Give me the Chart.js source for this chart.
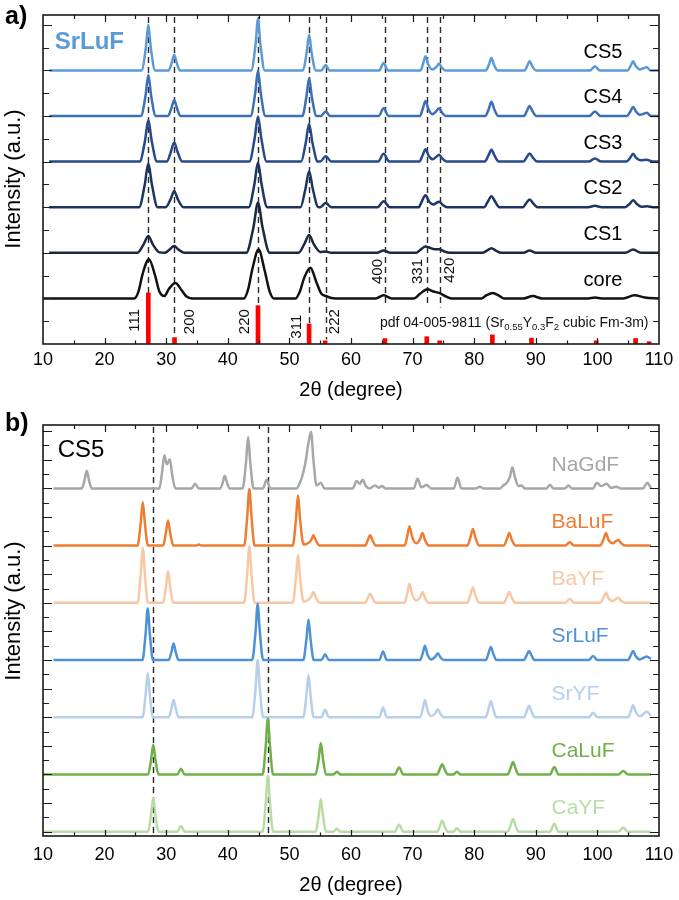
<!DOCTYPE html>
<html><head><meta charset="utf-8">
<script src="https://cdn.jsdelivr.net/npm/chart.js@4"></script>
<style>
body{margin:0;background:#fff;}
#wrap{position:relative;width:679px;height:900px;background:#fff;}
canvas{position:absolute;left:0;}
#ca{top:0}
#cb{top:400px}
</style></head><body>
<div id="wrap"><canvas id="ca" width="679" height="400"></canvas><canvas id="cb" width="679" height="500"></canvas></div>
<script>
// ---------- shared ----------
const xTickValues = [10,20,30,40,50,60,70,80,90,100,110];
const xTickLabels = ['10','20','30','40','50','60','70','80','90','100','110'];

// ---------- panel a: SrLuF core/shell series (2θ, relative intensity) ----------
const namesA = ['core','CS1','CS2','CS3','CS4','CS5'];
const offsetsA = [1,2,3,4,5,6];
const core = [[10,0],
 [24.8,0],[25.5,0.15],[26.2,0.55],[27.2,0.86],[28.2,0.5],[28.9,0.15],[29.7,0.05],
 [30.4,0.2],[31.5,0.34],[32.5,0.18],[33.3,0.04],[34.2,0],
 [42.6,0],[43.3,0.2],[44.0,0.65],[45.0,1.07],[46.0,0.6],[46.8,0.15],[47.5,0],
 [51.0,0],[51.7,0.15],[52.4,0.45],[53.4,0.67],[54.4,0.35],[55.2,0.1],[56.0,0.05],[56.8,0.01],[57.5,0],
 [64.0,0],[65.3,0.07],[66.6,0],
 [70.2,0],[71.2,0.1],[72.4,0.2],[73.4,0.15],[74.3,0.12],[75.3,0.05],[76.3,0],
 [81.2,0],[82.0,0.07],[83.0,0.12],[84.0,0.06],[84.8,0],
 [88.0,0],[89.5,0.05],[91.0,0],
 [98.5,0],[99.6,0.02],[100.7,0],
 [104.2,0],[106.0,0.07],[107.7,0.02],[110,0]];
const cs1 = [[11,0],
 [25.3,0],[26.35,0.19],[27.1,0.37],[27.85,0.18],[28.9,0.01],
 [29.8,0],[30.6,0.08],[31.3,0.15],[32.0,0.07],[33.0,0],
 [43.0,0],[44.15,0.55],[44.9,1.1],[45.65,0.55],[46.8,0],
 [51.5,0],[52.45,0.2],[53.2,0.39],[53.95,0.19],[55.0,0.02],[55.9,0.03],[56.8,0],
 [64.2,0],[65.3,0.05],[66.4,0],
 [70.6,0],[71.4,0.08],[72.1,0.14],[72.8,0.11],[73.6,0.08],[74.3,0.08],[75.0,0.04],[76.0,0],
 [81.3,0],[82.1,0.05],[82.8,0.1],[83.5,0.05],[84.4,0],
 [88.0,0],[89.0,0.05],[90.0,0],
 [104.5,0],[105.8,0.07],[107.1,0],[110,0]];
const cs2 = [[11,0],
 [25.6,0],[26.5,0.48],[27.1,0.96],[27.7,0.48],[28.6,0],
 [29.9,0],[30.7,0.17],[31.3,0.35],[31.9,0.17],[32.8,0],
 [43.4,0],[44.3,0.49],[44.9,0.98],[45.5,0.49],[46.4,0],
 [51.8,0],[52.6,0.4],[53.2,0.79],[53.8,0.4],[54.7,0],
 [55.0,0],[55.9,0.09],[56.8,0],
 [64.3,0],[65.3,0.13],[66.3,0],
 [71.0,0],[71.5,0.13],[72.1,0.26],[72.7,0.12],[73.4,0.06],[73.8,0.09],[74.3,0.12],[74.9,0.05],[75.6,0],
 [81.6,0],[82.2,0.12],[82.8,0.24],[83.4,0.12],[84.1,0],
 [87.9,0],[88.4,0.08],[89.0,0.17],[89.6,0.08],[90.3,0],
 [98.5,0],[99.6,0.03],[100.7,0],
 [104.5,0],[105.2,0.07],[105.8,0.15],[106.4,0.07],[107.2,0.01],[108.1,0.02],[109,0],[110,0]];
const cs3 = [[11,0],
 [25.7,0],[26.55,0.45],[27.1,0.91],[27.65,0.45],[28.5,0],
 [30.1,0],[30.75,0.21],[31.3,0.42],[31.85,0.21],[32.6,0],
 [43.5,0],[44.35,0.5],[44.9,0.99],[45.45,0.5],[46.3,0],
 [51.9,0],[52.65,0.41],[53.2,0.83],[53.75,0.41],[54.6,0],
 [55.0,0],[55.9,0.12],[56.8,0],
 [64.4,0],[65.3,0.17],[66.2,0],
 [71.1,0],[71.6,0.13],[72.1,0.27],[72.6,0.13],[73.3,0.05],[73.8,0.1],[74.3,0.15],[74.8,0.07],[75.5,0],
 [81.7,0],[82.3,0.13],[82.8,0.26],[83.3,0.13],[84.0,0],
 [88.0,0],[88.5,0.09],[89.0,0.18],[89.5,0.09],[90.2,0],
 [98.6,0],[99.6,0.07],[100.6,0],
 [104.7,0],[105.3,0.08],[105.8,0.17],[106.3,0.08],[107.0,0.03],[108.0,0.04],[109,0],[110,0]];
const cs4 = [[11,0],
 [25.9,0],[26.65,0.45],[27.1,0.9],[27.55,0.45],[28.3,0],
 [30.3,0],[30.85,0.17],[31.3,0.35],[31.75,0.17],[32.3,0],
 [43.7,0],[44.45,0.5],[44.9,1.0],[45.35,0.5],[46.1,0],
 [52.1,0],[52.75,0.41],[53.2,0.83],[53.65,0.41],[54.4,0],
 [55.1,0],[55.9,0.1],[56.6,0],
 [64.5,0],[65.3,0.17],[66.1,0],
 [71.2,0],[71.65,0.16],[72.1,0.33],[72.55,0.16],[73.2,0.04],[73.8,0.1],[74.3,0.17],[74.8,0.07],[75.4,0],
 [81.8,0],[82.35,0.15],[82.8,0.31],[83.25,0.15],[83.9,0],
 [88.1,0],[88.55,0.11],[89.0,0.22],[89.45,0.11],[90.1,0],
 [98.7,0],[99.6,0.1],[100.5,0],
 [104.8,0],[105.35,0.1],[105.8,0.2],[106.25,0.1],[106.9,0.03],[107.5,0.05],[108.0,0.07],[108.7,0],[110,0]];
const cs5 = [[11,0],
 [26.0,0],[26.7,0.5],[27.1,1.0],[27.5,0.5],[28.2,0],
 [30.4,0],[30.9,0.17],[31.3,0.34],[31.7,0.17],[32.2,0],
 [43.8,0],[44.5,0.56],[44.9,1.13],[45.3,0.56],[46.0,0],
 [52.2,0],[52.8,0.39],[53.2,0.78],[53.6,0.39],[54.3,0],
 [55.2,0],[55.9,0.12],[56.5,0],
 [64.6,0],[65.3,0.16],[66.0,0],
 [71.3,0],[71.7,0.15],[72.1,0.31],[72.5,0.14],[73.2,0.02],[73.9,0.08],[74.3,0.15],[74.7,0.07],[75.3,0],
 [81.9,0],[82.4,0.13],[82.8,0.27],[83.2,0.13],[83.8,0],
 [88.2,0],[88.6,0.1],[89.0,0.2],[89.4,0.1],[90.0,0],
 [98.8,0],[99.6,0.09],[100.4,0],
 [104.9,0],[105.4,0.1],[105.8,0.2],[106.2,0.1],[106.9,0.02],[107.5,0.05],[108.0,0.07],[108.6,0],[110,0]];
const seriesA = [core, cs1, cs2, cs3, cs4, cs5];

// reference pattern pdf 04-005-9811
const refPos = [27.1,31.35,44.9,53.2,55.8,65.5,72.3,74.4,82.95,89.3,99.8,106.2,108.4];
const refInt = [1.12,0.14,0.84,0.44,0.07,0.12,0.16,0.07,0.2,0.13,0.07,0.12,0.05];
const hklLabels = ['111','200','220','311','222','400','331','420'];
const dashA = [27.1,31.3,44.9,53.2,55.9,65.5,72.3,74.4];

// ---------- panel b: CS5 of different hosts ----------
const namesB = ['CaYF','CaLuF','SrYF','SrLuF','BaYF','BaLuF','NaGdF'];
const offsetsB = [0,1,2,3,4,5,6];
const caYF = [[10,0],
 [27.05,0],[27.55,0.3],[27.9,0.6],[28.25,0.3],[28.75,0],
 [31.8,0],[32.4,0.1],[33.0,0],
 [45.65,0],[46.15,0.49],[46.5,0.98],[46.85,0.49],[47.35,0],
 [54.25,0],[54.75,0.28],[55.1,0.57],[55.45,0.28],[55.95,0],
 [57.1,0],[57.7,0.05],[58.3,0],
 [67.1,0],[67.8,0.12],[68.5,0],
 [74.0,0],[74.4,0.09],[74.8,0.19],[75.2,0.09],[75.7,0],[76.6,0],[77.2,0.06],[77.8,0],
 [85.4,0],[85.9,0.11],[86.3,0.22],[86.7,0.11],[87.2,0],
 [92.3,0],[93.0,0.14],[93.7,0],
 [103.4,0],[104.2,0.07],[105.0,0],[108.7,0]];
const caLuF = [[10,0],
 [27.05,0],[27.55,0.26],[27.9,0.52],[28.25,0.26],[28.75,0],
 [31.8,0],[32.4,0.1],[33.0,0],
 [45.65,0],[46.15,0.49],[46.5,0.98],[46.85,0.49],[47.35,0],
 [54.25,0],[54.75,0.27],[55.1,0.55],[55.45,0.27],[55.95,0],
 [57.1,0],[57.7,0.05],[58.3,0],
 [67.1,0],[67.8,0.12],[68.5,0],
 [74.0,0],[74.4,0.09],[74.8,0.18],[75.2,0.09],[75.7,0],[76.6,0],[77.2,0.05],[77.8,0],
 [85.4,0],[85.9,0.11],[86.3,0.22],[86.7,0.11],[87.2,0],
 [92.3,0],[93.0,0.13],[93.7,0],
 [103.4,0],[104.2,0.06],[105.0,0],[108.7,0]];
const srYF = [[11.7,0],
 [26.15,0],[26.65,0.38],[27.0,0.77],[27.35,0.38],[27.85,0],
 [30.4,0],[30.85,0.15],[31.2,0.3],[31.55,0.15],[32.0,0],
 [43.95,0],[44.5,0.5],[44.85,1.0],[45.2,0.5],[45.75,0],
 [52.25,0],[52.75,0.37],[53.1,0.74],[53.45,0.37],[53.95,0],
 [55.2,0],[55.8,0.13],[56.4,0],
 [64.6,0],[65.2,0.17],[65.8,0],
 [71.2,0],[71.65,0.15],[72.0,0.3],[72.4,0.13],[73.0,0.02],[73.7,0.07],[74.1,0.14],[74.5,0.06],[75.1,0],
 [81.9,0],[82.3,0.14],[82.7,0.28],[83.1,0.14],[83.6,0],
 [88.1,0],[88.5,0.1],[88.9,0.2],[89.3,0.1],[89.8,0],
 [98.6,0],[99.3,0.08],[100.0,0],
 [105.0,0],[105.4,0.1],[105.8,0.21],[106.2,0.1],[106.9,0.02],[107.5,0.06],[108.0,0.1],[108.7,0.03]];
const srLuF = [[11.7,0],
 [26.15,0],[26.65,0.45],[27.0,0.9],[27.35,0.45],[27.85,0],
 [30.4,0],[30.85,0.14],[31.2,0.29],[31.55,0.14],[32.0,0],
 [43.95,0],[44.5,0.49],[44.85,0.98],[45.2,0.49],[45.75,0],
 [52.25,0],[52.75,0.35],[53.1,0.71],[53.45,0.35],[53.95,0],
 [55.2,0],[55.8,0.1],[56.4,0],
 [64.6,0],[65.2,0.15],[65.8,0],
 [71.2,0],[71.65,0.12],[72.0,0.25],[72.4,0.1],[73.0,0.01],[73.7,0.06],[74.1,0.12],[74.5,0.05],[75.1,0],
 [81.9,0],[82.3,0.11],[82.7,0.23],[83.1,0.11],[83.6,0],
 [88.1,0],[88.5,0.08],[88.9,0.16],[89.3,0.08],[89.8,0],
 [98.6,0],[99.3,0.07],[100.0,0],
 [105.0,0],[105.4,0.08],[105.8,0.16],[106.2,0.07],[106.9,0.01],[107.5,0.04],[108.0,0.06],[108.7,0.02]];
const baYF = [[11.7,0],
 [25.35,0],[25.85,0.48],[26.2,0.96],[26.55,0.48],[27.05,0],
 [29.5,0],[29.95,0.27],[30.3,0.55],[30.65,0.27],[31.15,0],
 [42.65,0],[43.15,0.5],[43.5,0.99],[43.85,0.5],[44.35,0],
 [50.55,0],[51.05,0.42],[51.4,0.84],[51.75,0.42],[52.3,0.02],[53.5,0.1],[53.9,0.19],[54.3,0.09],[54.9,0],
 [62.3,0],[62.7,0.08],[63.1,0.16],[63.5,0.08],[64.0,0],
 [68.7,0],[69.15,0.17],[69.5,0.34],[69.9,0.16],[70.6,0.04],[71.2,0.1],[71.6,0.19],[72.0,0.09],[72.6,0],
 [78.9,0],[79.4,0.14],[79.8,0.27],[80.2,0.13],[80.8,0],
 [84.8,0],[85.3,0.1],[85.7,0.19],[86.1,0.09],[86.7,0],
 [94.8,0],[95.5,0.07],[96.2,0],
 [100.4,0],[101.0,0.09],[101.4,0.18],[101.8,0.08],[102.5,0.03],[103.0,0.07],[103.4,0.09],[103.8,0.04],[104.5,0],[108.7,0]];
const baLuF = [[11.7,0],
 [25.35,0],[25.85,0.38],[26.2,0.76],[26.55,0.38],[27.05,0],
 [29.5,0],[29.95,0.22],[30.3,0.44],[30.65,0.22],[31.15,0],
 [34.9,0],[35.3,0.02],[35.7,0],
 [42.65,0],[43.15,0.5],[43.5,0.99],[43.85,0.5],[44.35,0],
 [50.55,0],[51.05,0.44],[51.4,0.88],[51.75,0.44],[52.3,0.02],[53.5,0.09],[53.9,0.18],[54.3,0.09],[54.9,0],
 [62.3,0],[62.7,0.09],[63.1,0.18],[63.5,0.09],[64.0,0],
 [68.7,0],[69.15,0.17],[69.5,0.34],[69.9,0.16],[70.6,0.04],[71.2,0.11],[71.6,0.22],[72.0,0.1],[72.6,0],
 [78.9,0],[79.4,0.15],[79.8,0.29],[80.2,0.14],[80.8,0],
 [84.8,0],[85.3,0.11],[85.7,0.22],[86.1,0.1],[86.7,0],
 [94.8,0],[95.5,0.06],[96.2,0],
 [100.4,0],[101.0,0.11],[101.4,0.22],[101.8,0.1],[102.5,0.04],[103.0,0.08],[103.4,0.1],[103.8,0.05],[104.5,0],[108.7,0]];
const naGdF = [[11.7,0],
 [16.3,0],[16.75,0.15],[17.1,0.31],[17.45,0.15],[17.9,0],
 [28.9,0],[29.35,0.3],[29.7,0.58],[30.1,0.42],[30.6,0.51],[30.95,0.25],[31.5,0],
 [34.1,0],[34.7,0.08],[35.3,0],
 [38.8,0],[39.2,0.11],[39.5,0.22],[39.85,0.11],[40.3,0],
 [42.4,0],[42.95,0.45],[43.3,0.9],[43.65,0.45],[44.2,0],
 [45.7,0],[46.3,0.15],[46.9,0],
 [51.2,0],[51.7,0.1],[52.0,0.18],[52.6,0.45],[53.1,0.8],[53.5,0.99],[53.9,0.5],[54.4,0.05],[55.1,0.1],[55.7,0],
 [60.3,0],[60.9,0.13],[61.4,0.08],[61.9,0.15],[62.4,0.04],[63.0,0],[63.9,0.05],[64.5,0.01],[65.0,0.04],[65.6,0],
 [70.2,0],[70.8,0.17],[71.4,0.02],[72.3,0.06],[73.0,0],
 [76.7,0],[77.3,0.19],[77.9,0],
 [80.3,0],[80.9,0.03],[81.5,0],
 [84.2,0],[84.7,0.05],[85.3,0.1],[85.8,0.2],[86.2,0.37],[86.6,0.2],[87.2,0.04],[87.7,0.05],[88.2,0],
 [91.7,0],[92.3,0.06],[92.9,0],
 [94.7,0],[95.3,0.05],[95.9,0],
 [99.3,0],[99.9,0.1],[100.6,0.04],[101.5,0.08],[102.2,0.01],[103.1,0.03],[103.7,0],
 [107.4,0],[108.1,0.1],[108.7,0]];
const seriesB = [caYF, caLuF, srYF, srLuF, baYF, baLuF, naGdF];
const dashB = [27.9, 46.5];

// ---------- styles ----------
const colorsA = ['#111111','#1b2940','#1d3562','#27498a','#3b6fb6','#5b9bd5'];
const labelColorsA = ['#000','#000','#000','#000','#000','#000'];
const colorsB = ['#b9dca6','#70b04a','#b6cfec','#4e92d6','#f7c8a6','#ee7d32','#a7a7a7'];
const FONT = '"Liberation Sans", Arial, sans-serif';

function txt(ctx, s, x, y, font, color, align, base){
  ctx.font = font; ctx.fillStyle = color || '#000';
  ctx.textAlign = align || 'center'; ctx.textBaseline = base || 'middle';
  ctx.fillText(s, x, y);
}

function framePlugin(o){
  return {
    id: o.id,
    beforeDatasetsDraw(chart){
      const {ctx, chartArea:a, scales:{x,y}} = chart;
      ctx.save();
      ctx.setLineDash([6,4]); ctx.lineWidth = 1.4; ctx.strokeStyle = '#2a2a2a';
      o.dashes.forEach((d,i)=>{
        const px = Math.round(x.getPixelForValue(d))+0.5;
        const yb = y.getPixelForValue(o.dashEnd[i]);
        ctx.beginPath(); ctx.moveTo(px, a.top+2); ctx.lineTo(px, yb); ctx.stroke();
      });
      ctx.restore();
    },
    afterDatasetsDraw(chart){
      const {ctx, chartArea:a, scales:{x,y}} = chart;
      ctx.save();
      ctx.strokeStyle = '#1a1a1a'; ctx.lineWidth = 1.2;
      for(let v=15; v<110; v+=5){
        const px = Math.round(x.getPixelForValue(v))+0.5;
        const maj = v%10===0;
        ctx.beginPath();
        ctx.moveTo(px, a.bottom); ctx.lineTo(px, a.bottom-(maj?6:3.5));
        ctx.moveTo(px, a.top); ctx.lineTo(px, a.top+(maj?7:4));
        ctx.stroke();
      }
      for(let k=0; k*o.yMinor<=o.yTickMax+1e-9; k++){
        const v = k*o.yMinor;
        const py = Math.round(y.getPixelForValue(v))+0.5;
        if(py>a.bottom-1||py<a.top+1) continue;
        const maj = Math.abs(v/o.yMajor-Math.round(v/o.yMajor))<1e-6;
        const L = maj?9:6;
        ctx.beginPath();
        ctx.moveTo(a.left, py); ctx.lineTo(a.left+L, py);
        ctx.moveTo(a.right, py); ctx.lineTo(a.right-L, py);
        ctx.stroke();
      }
      ctx.lineWidth = 1.6;
      ctx.strokeRect(a.left, a.top, a.right-a.left, a.bottom-a.top);
      xTickValues.forEach((v,i)=>{
        txt(ctx, xTickLabels[i], x.getPixelForValue(v), a.bottom+o.tickDy, '18px '+FONT, '#000');
      });
      txt(ctx, '2θ (degree)', (a.left+a.right)/2, a.bottom+o.titleDy, '20px '+FONT, '#000');
      ctx.save();
      ctx.translate(14, o.yTitleY); ctx.rotate(-Math.PI/2);
      txt(ctx, 'Intensity (a.u.)', 0, 0, '22px '+FONT, '#000');
      ctx.restore();
      txt(ctx, o.letter, 5, o.letterY, 'bold 25px '+FONT, '#000', 'left');
      o.names.forEach((n,i)=>{
        txt(ctx, n, x.getPixelForValue(o.labelX), y.getPixelForValue(o.offsets[i]+o.labelDy), o.labelFont, o.labelColors[i], 'left');
      });
      if(o.extra) o.extra(ctx, a, x, y);
      ctx.restore();
    }
  };
}

function lineSets(series, offsets, colors){
  return series.map((s,i)=>({
    data: s.map(p=>({x:p[0], y:p[1]+offsets[i]})),
    borderColor: colors[i], backgroundColor: colors[i],
    borderWidth: 2.5, pointRadius: 0, fill: false,
    cubicInterpolationMode: 'monotone'
  }));
}

function makeChart(canvas, datasets, pad, ymin, ymax, plugin){
  return new Chart(canvas, {
    type: 'line',
    data: {datasets},
    options: {
      responsive: false, animation: false, devicePixelRatio: 1,
      layout: {padding: pad},
      plugins: {legend: {display: false}, tooltip: {enabled: false}},
      scales: {
        x: {type: 'linear', min: 10, max: 110, display: false, offset: false},
        y: {type: 'linear', min: ymin, max: ymax, display: false}
      },
      elements: {point: {radius: 0}}
    },
    plugins: [plugin]
  });
}

// ---- panel a ----
const hklX = [24.9,33.9,42.8,51.2,57.4,64.3,70.9,76.1];
const hklY = [0.52,0.49,0.49,0.38,0.49,1.59,1.59,1.62];
const dsA = lineSets(seriesA, offsetsA, colorsA);
dsA.push({
  type: 'bar',
  data: refPos.map((p,i)=>({x:p, y:refInt[i]})),
  backgroundColor: '#ff0000', borderWidth: 0, barThickness: 4
});
makeChart(document.getElementById('ca'), dsA,
  {left:43, right:20, top:15, bottom:56}, 0, 7.215,
  framePlugin({
    id:'fa', dashes: dashA, dashEnd:[0,0.15,0,0,0.1,0.82,0.82,0.8],
    yMinor:0.5, yMajor:1, yTickMax:7,
    tickDy:16.5, titleDy:46, yTitleY:179, letter:'a)', letterY:17,
    names:namesA, offsets:offsetsA, labelX:97.75, labelDy:0.4,
    labelFont:'20px '+FONT, labelColors:labelColorsA,
    extra(ctx, a, x, y){
      txt(ctx, 'SrLuF', x.getPixelForValue(11.9), y.getPixelForValue(6.62), 'bold 24px '+FONT, '#5b9bd5', 'left');
      hklLabels.forEach((h,i)=>{
        ctx.save();
        ctx.translate(x.getPixelForValue(hklX[i]), y.getPixelForValue(hklY[i]));
        ctx.rotate(-Math.PI/2);
        txt(ctx, h, 0, 0, '15px '+FONT, '#111');
        ctx.restore();
      });
      const parts = [['pdf 04-005-9811 (Sr',0],['0.55',1],['Y',0],['0.3',1],['F',0],['2',1],[' cubic Fm-3m)',0]];
      const fN = '14px '+FONT, fS = '9.5px '+FONT;
      let w = 0;
      parts.forEach(p=>{ctx.font = p[1]?fS:fN; w += ctx.measureText(p[0]).width;});
      let cx = x.getPixelForValue(108.3) - w;
      const cy = y.getPixelForValue(0.46);
      parts.forEach(p=>{
        ctx.font = p[1]?fS:fN; ctx.fillStyle='#111'; ctx.textAlign='left'; ctx.textBaseline='middle';
        ctx.fillText(p[0], cx, cy + (p[1]?4:0));
        cx += ctx.measureText(p[0]).width;
      });
    }
  }));

// ---- panel b ----
const dsB = lineSets(seriesB, offsetsB, colorsB);
makeChart(document.getElementById('cb'), dsB,
  {left:43, right:20, top:25, bottom:64}, -0.075, 7.108,
  framePlugin({
    id:'fb', dashes: dashB, dashEnd:[-0.075,-0.075],
    yMinor:0.25, yMajor:0.5, yTickMax:7,
    tickDy:19, titleDy:49, yTitleY:211, letter:'b)', letterY:24,
    names:namesB, offsets:offsetsB, labelX:92.55, labelDy:0.41,
    labelFont:'21px '+FONT, labelColors:colorsB,
    extra(ctx, a, x, y){
      txt(ctx, 'CS5', x.getPixelForValue(12.4), y.getPixelForValue(6.66), '24px '+FONT, '#000', 'left');
    }
  }));
</script>
</body></html>
